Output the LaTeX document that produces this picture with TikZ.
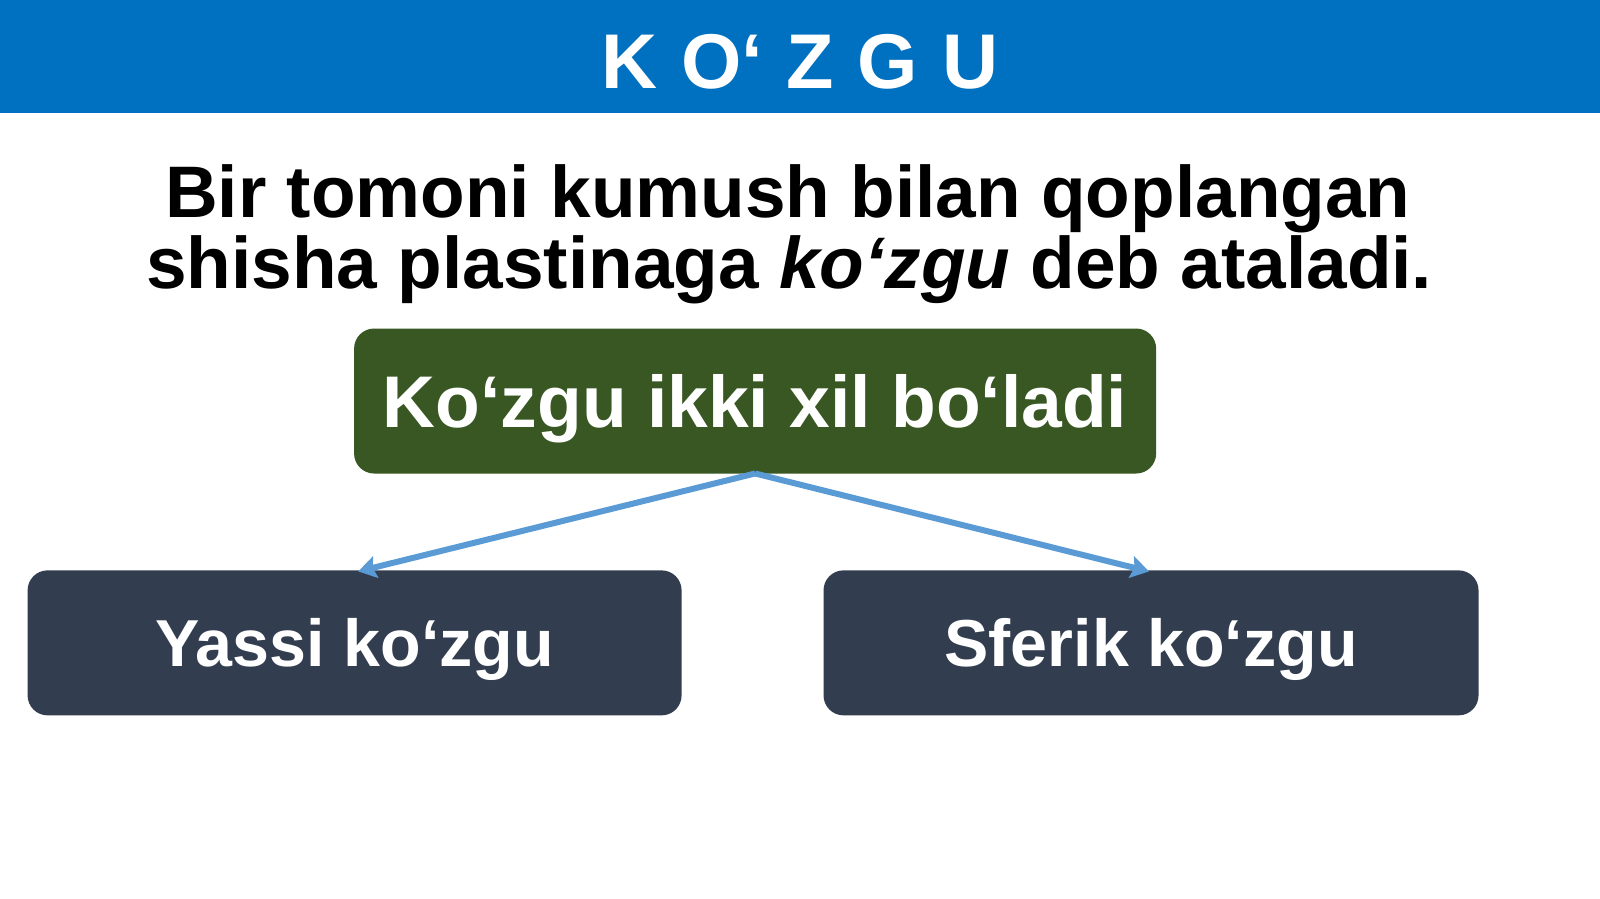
\documentclass[tikz,border=0pt]{standalone}
\usepackage{fontspec}
\setmainfont{Liberation Sans}
\usetikzlibrary{arrows.meta}
\definecolor{titleblue}{RGB}{0,112,192}
\definecolor{boxgreen}{RGB}{56,87,35}
\definecolor{boxslate}{RGB}{50,62,79}
\definecolor{arrowblue}{RGB}{91,155,213}
\begin{document}
\begin{tikzpicture}[x=0.5102pt,y=-0.5102pt,
  box/.style={rounded corners=10pt, inner sep=0pt, text=white, text depth=0pt, font=\bfseries\fontsize{33.2}{33.2}\selectfont},
  deftext/.style={anchor=base, inner sep=0pt, font=\bfseries\fontsize{36.5}{36.5}\selectfont},
  conn/.style={draw=arrowblue, line width=3pt, -{Stealth[length=9pt,width=11pt,inset=1.5pt]}}]
\useasboundingbox[fill=white] (0,0) rectangle (1568,881);
\fill[titleblue] (0,0) rectangle (1568,111);
\node[text=white, font=\bfseries\fontsize{38.8}{38.8}\selectfont, text depth=0pt] (title) at (784,60) {K\hspace{0.3em}O‘\hspace{0.3em}Z\hspace{0.3em}G\hspace{0.32em}U};
\node[deftext] (def1) at (772,213) {Bir tomoni kumush bilan qoplangan};
\node[deftext] (def2) at (773.5,283) {shisha plastinaga \textit{ko‘zgu} deb ataladi.};
\node[box, fill=boxgreen, minimum width=401pt, minimum height=72.5pt, font=\bfseries\fontsize{36.6}{36.6}\selectfont] (main) at (740,393) {Ko‘zgu ikki xil bo‘ladi};
\node[box, fill=boxslate, minimum width=327pt, minimum height=72.5pt] (left) at (347.5,630) {Yassi ko‘zgu};
\node[box, fill=boxslate, minimum width=327.5pt, minimum height=72.5pt] (right) at (1128,630) {Sferik ko‘zgu};
\coordinate (top) at (740,464);
\coordinate (lt) at (351,560);
\coordinate (rt) at (1126,560);
\draw[conn] (top) -- (lt);
\draw[conn] (top) -- (rt);
\end{tikzpicture}
\end{document}
